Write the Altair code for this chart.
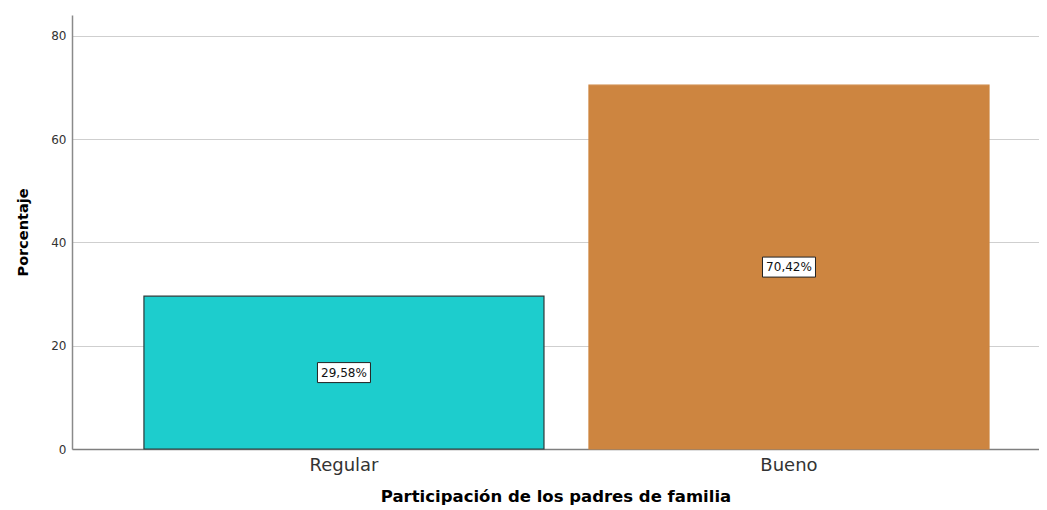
import altair as alt
import pandas as pd

categories = ["Regular", "Bueno"]
values = [29.58, 70.42]
labels = ["29,58%", "70,42%"]
colors = ["#1dcdcd", "#cd8540"]

FONT = "DejaVu Sans"

df = pd.DataFrame({"cat": categories, "val": values, "lab": labels})
df["mid"] = df["val"] / 2

x_enc = alt.X("cat:N", sort=categories,
              scale=alt.Scale(paddingInner=0.1011, paddingOuter=0.137, align=0.59),
              axis=alt.Axis(title="Participación de los padres de familia",
                            labelAngle=0, labelFontSize=18, labelColor="#333333",
                            labelPadding=7, ticks=False, domainColor="#7f7f7f",
                            domainWidth=1.5, titleFontSize=16.5, titleFontWeight="bold",
                            titleColor="#000000", titlePadding=14, grid=False,
                            labelFont=FONT, titleFont=FONT))

bars = alt.Chart(df).mark_bar(strokeWidth=1.2).encode(
    x=x_enc,
    y=alt.Y("val:Q", scale=alt.Scale(domain=[0, 84], nice=False),
            axis=alt.Axis(title="Porcentaje", values=[0, 20, 40, 60, 80],
                          labelFontSize=12, labelColor="#333333", ticks=False,
                          labelPadding=6, domainColor="#8a8a8a", domainWidth=1.5,
                          gridColor="#cfcfcf", gridWidth=1,
                          titleFontSize=14.5, titleFontWeight="bold", titleColor="#000000",
                          titlePadding=20, labelFont=FONT, titleFont=FONT)),
    color=alt.Color("cat:N", scale=alt.Scale(domain=categories, range=colors), legend=None),
    stroke=alt.Stroke("cat:N", scale=alt.Scale(domain=categories, range=["#2b3a3a", "#cd8540"]), legend=None),
)

boxes = alt.Chart(df).mark_rect(width=53, height=20, fill="white", stroke="#222222",
                                strokeWidth=1).encode(
    x=alt.X("cat:N", sort=categories),
    y=alt.Y("mid:Q"),
)

texts = alt.Chart(df).mark_text(fontSize=12, color="#111111", font=FONT).encode(
    x=alt.X("cat:N", sort=categories),
    y=alt.Y("mid:Q"),
    text="lab:N",
)

chart = (bars + boxes + texts).properties(
    width=967, height=434,
    autosize=alt.AutoSizeParams(type="none"),
    padding={"left": 64, "top": 7, "right": 0, "bottom": 60},
    background="white",
).configure_view(stroke=None)

chart.save("out.html", embed_options={"renderer": "svg", "actions": False})
